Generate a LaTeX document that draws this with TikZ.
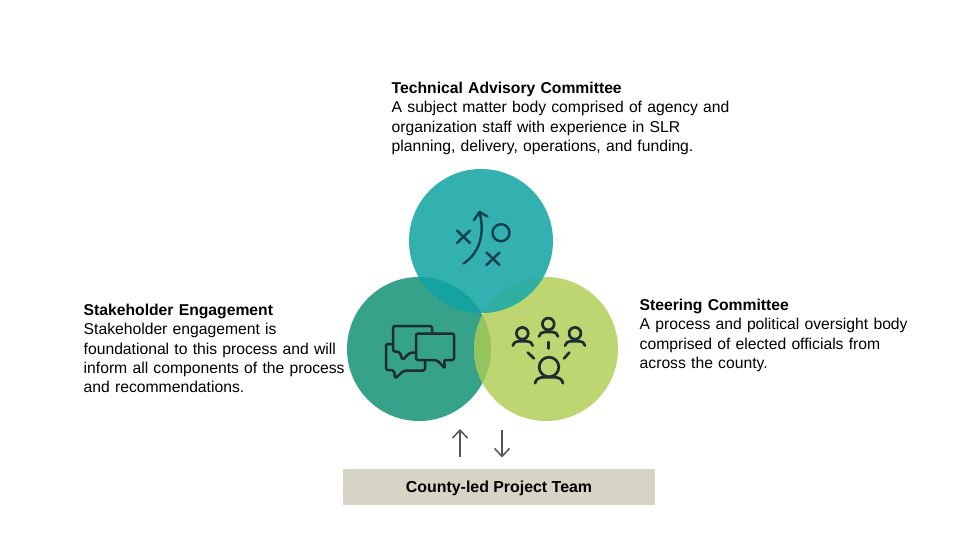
\documentclass[tikz,border=0pt]{standalone}
\usepackage{fontspec}
\setmainfont{Liberation Sans}
\usetikzlibrary{arrows.meta}
\definecolor{cTop}{HTML}{33B0B0}
\definecolor{cLeft}{HTML}{37A28A}
\definecolor{cRight}{HTML}{BDD672}
\definecolor{cTL}{HTML}{14A39E}
\definecolor{cTR}{HTML}{2FAFA0}
\definecolor{cLR}{HTML}{95C45F}
\definecolor{cBox}{HTML}{D5D4C5}
\definecolor{iconTeal}{HTML}{12404F}
\definecolor{iconDark}{HTML}{1E2E2E}
\definecolor{arrowGrey}{HTML}{555555}
\tikzset{
  blurb/.style={anchor=north west,align=left,inner sep=0pt,text width=360pt,
    font=\fontsize{15.7}{19.3}\selectfont,text=black},
  teamlabel/.style={font=\fontsize{15.9}{18}\selectfont\bfseries,text=black,inner sep=0pt},
  teamBox/.style={fill=cBox,draw=none,minimum width=312pt,minimum height=36pt,inner sep=0pt},
  iconA/.style={draw=iconTeal,line width=2.4pt,line cap=round,line join=round},
  iconB/.style={draw=iconDark,line width=2.7pt,line cap=round,line join=round},
  flow/.style={draw=arrowGrey,line width=1.7pt,-{Straight Barb[length=8pt,width=15pt,line width=1.5pt]}}
}
\begin{document}
\begin{tikzpicture}[x=1pt,y=-1pt]
\useasboundingbox[fill=white] (0,0) rectangle (960,540);
% circles
\fill[cLeft] (419,349) circle (72);
\fill[cRight] (546,349) circle (72);
\fill[cTop] (481,241) circle (72);
\begin{scope}\clip (481,241) circle (72); \fill[cTL] (419,349) circle (72); \fill[cTR] (546,349) circle (72); \end{scope}
\begin{scope}\clip (419,349) circle (72); \fill[cLR] (546,349) circle (72); \end{scope}
% tactic icon
\draw[iconA] (457,230.5) -- (470,243) (470,230.5) -- (457,243);
\draw[iconA] (486.5,252.5) -- (499.5,265) (499.5,252.5) -- (486.5,265);
\draw[iconA] (501,232.7) circle (8.5);
\draw[iconA] (463.5,263.5) .. controls (477,255) and (486,237) .. (479.5,212);
\draw[iconA] (474,220) -- (479.5,212) -- (487.5,216.5);
% chat icon
\draw[iconB,line width=2.5pt,rounded corners=2pt] (432,333) -- (432,326) -- (393,326) -- (393,351.5) -- (399.5,351.5) -- (402.5,360) -- (410,352.5) -- (415,352.5);
\draw[iconB,line width=2.5pt,rounded corners=2pt] (392,344) -- (386,344) -- (386,370) -- (394,370) -- (395,378.5) -- (404,370.5) -- (425,370.5) -- (425,361);
\draw[iconB,line width=2.5pt,rounded corners=2pt] (416,333.5) -- (454,333.5) -- (454,360) -- (444,360) -- (445,368.5) -- (437,360) -- (416,360) -- cycle;
% people icon
\foreach \hx/\hy/\hr/\sx/\sy/\sw/\sr in {548.3/324/5.9/539/336.5/9.5/4.5, 522.3/333.3/5.9/512.7/345.7/10/4.5, 575/333.3/5.9/565/345.7/10/4.5, 549/367/9.8/535/383.3/14/6}{
  \draw[iconB] (\hx,\hy) circle (\hr);
  \draw[iconB] (\sx,\sy) .. controls (\sx+0.05*\sw,\sy-0.7*\sr) and (\sx+0.3*\sw,\sy-\sr) .. (\sx+0.6*\sw,\sy-\sr)
     -- (\sx+1.4*\sw,\sy-\sr) .. controls (\sx+1.7*\sw,\sy-\sr) and (\sx+1.95*\sw,\sy-0.7*\sr) .. (\sx+2*\sw,\sy);
}
\draw[iconB] (548.3,342) -- (548.3,348.5);
\draw[iconB] (527.7,352.5) -- (534,358.5);
\draw[iconB] (569.3,352.5) -- (564,358.5);
% text
\node[blurb] (tac) at (391.5,82) {\textbf{Technical Advisory Committee}\\A subject matter body comprised of agency and\\organization staff with experience in SLR\\planning, delivery, operations, and funding.};
\node[blurb] (stake) at (83.5,304) {\textbf{Stakeholder Engagement}\\Stakeholder engagement is\\foundational to this process and will\\inform all components of the process\\and recommendations.};
\node[blurb] (steer) at (639.5,299) {\textbf{Steering Committee}\\A process and political oversight body\\comprised of elected officials from\\across the county.};
% team box
\node[teamBox] (team) at (499,487) {};
\node[teamlabel] (teamtext) at (499,488.5) {County-led Project Team};
\coordinate (upS) at (460,456.5);
\coordinate (upE) at (460,429);
\coordinate (dnS) at (502,430);
\coordinate (dnE) at (502,457.5);
\draw[flow] (upS) -- (upE);
\draw[flow] (dnS) -- (dnE);
\end{tikzpicture}
\end{document}
